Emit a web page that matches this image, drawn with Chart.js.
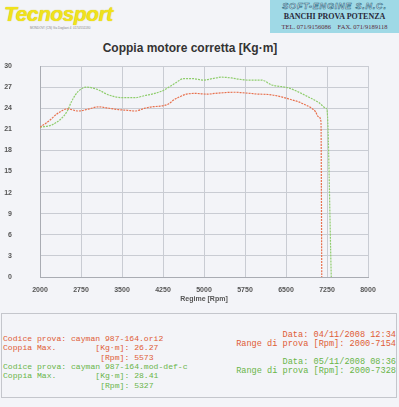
<!DOCTYPE html>
<html>
<head>
<meta charset="utf-8">
<script src="https://cdn.jsdelivr.net/npm/chart.js@4.4.0/dist/chart.umd.min.js"></script>
<style>
  body { margin: 0; width: 399px; height: 407px; background: #f3f4f8; position: relative; overflow: hidden; font-family: "Liberation Sans", Arial, sans-serif; }
  .abs { position: absolute; white-space: pre; }
  #logo { left: 4px; top: 2px; font: italic bold 21px "Liberation Sans", Arial, sans-serif; color: #f0e21c; letter-spacing: -0.5px; text-shadow: 0 0 1px #c9b800; }
  #addr { left: 30px; top: 26px; font-size: 3px; color: #888; }
  #box { left: 270px; top: 0; width: 129px; height: 33px; background: #9fd9e6; }
  #se { left: 270px; width: 129px; top: 1px; text-align: center; font: italic bold 9px "Liberation Sans", Arial, sans-serif; color: #f4f8fb; letter-spacing: 0.8px; -webkit-text-stroke: 0.6px #2f6f88; }
  #banchi { left: 270px; width: 129px; top: 12px; text-align: center; font: bold 8px "Liberation Serif", "Times New Roman", serif; color: #2a2a3a; }
  #tel { left: 270px; width: 129px; top: 23px; text-align: center; font: 6.5px "Liberation Serif", "Times New Roman", serif; color: #5a2a3a; }
  #title { left: 0; width: 380px; top: 41px; text-align: center; font: bold 12px "Liberation Sans", Arial, sans-serif; color: #333; }
  #chartBox { position: absolute; left: 0; top: 56px; width: 399px; height: 250px; }
  #legend { position: absolute; left: 1px; top: 313px; width: 394px; height: 83px; border: 1px solid #c4c6cc; }
  .mono { font: 8.1px "Liberation Mono", "Courier New", monospace; line-height: 9.3px; }
  .wide { font-size: 8.6px; }
  .red { color: #df5c36; }
  .green { color: #69b448; }
</style>
</head>
<body>
<div id="logo" class="abs">Tecnosport</div>
<div id="addr" class="abs">MONDOVI' (CN) Via Dogliani 4  0174/551180</div>
<div id="box" class="abs"></div>
<div id="se" class="abs">SOFT-ENGINE S.N.C.</div>
<div id="banchi" class="abs">BANCHI PROVA POTENZA</div>
<div id="tel" class="abs">TEL. 071/9156086    FAX. 071/9189118</div>
<div id="title" class="abs">Coppia motore corretta [Kg·m]</div>

<div id="chartBox"><canvas id="myChart"></canvas></div>

<div id="legend"></div>
<div class="abs mono red" style="left:3px; top:334px;">Codice prova: cayman 987-164.ori2
Coppia Max.        [Kg·m]: 26.27
                    [Rpm]: 5573</div>
<div class="abs mono green" style="left:3px; top:362px;">Codice prova: cayman 987-164.mod-def-c
Coppia Max.        [Kg·m]: 28.41
                    [Rpm]: 5327</div>
<div class="abs mono wide red" style="right:3px; top:331px; text-align:right;">Data: 04/11/2008 12:34
Range di prova [Rpm]: 2000-7154</div>
<div class="abs mono wide green" style="right:3px; top:358px; text-align:right;">Data: 05/11/2008 08:36
Range di prova [Rpm]: 2000-7328</div>

<script>
const ctx = document.getElementById("myChart");

// prova ori2 (rossa)
let rpmOri = [2000, 2150, 2330, 2500, 2700, 2900, 3070, 3250, 3430, 3600, 3740, 3920, 4050, 4200, 4350, 4450, 4550, 4680, 4850, 5050, 5200, 5350, 5573, 5700, 5850, 6000, 6180, 6420, 6600, 6730, 6850, 6970, 7040, 7090, 7140, 7154];
let coppiaOri = [21.3, 22.1, 23.3, 23.9, 23.6, 23.9, 24.2, 24.0, 23.8, 23.7, 23.6, 24.0, 24.2, 24.3, 24.6, 25.2, 25.6, 26.0, 26.1, 26.0, 26.1, 26.2, 26.27, 26.2, 26.1, 26.0, 25.95, 25.6, 25.2, 24.9, 24.5, 24.0, 23.5, 22.8, 22.1, 0];

// prova mod-def-c (verde)
let rpmMod = [2000, 2210, 2400, 2500, 2580, 2700, 2850, 2950, 3070, 3250, 3500, 3740, 3920, 4100, 4250, 4400, 4500, 4620, 4800, 4990, 5150, 5327, 5500, 5660, 5800, 6050, 6240, 6540, 6700, 6910, 7100, 7232, 7250, 7328];
let coppiaMod = [21.3, 21.6, 22.6, 23.6, 25.0, 26.4, 27.0, 26.9, 26.6, 25.9, 25.5, 25.5, 25.8, 26.1, 26.5, 27.2, 27.7, 28.2, 28.2, 28.0, 28.2, 28.41, 28.3, 28.1, 28.0, 28.0, 27.3, 26.9, 26.4, 25.6, 24.8, 24.0, 23.8, 0];

let rpmTicks = [2000, 2750, 3500, 4250, 5000, 5750, 6500, 7250, 8000];
let coppiaTicks = [0, 3, 6, 9, 12, 15, 18, 21, 24, 27, 30];

let toPoints = (xs, ys) => xs.map((x, i) => ({ x: x, y: ys[i] }));

let tickFont = { size: 7, weight: "bold", family: "Liberation Sans" };

let chart = new Chart(ctx, {
    type: "line",
    data: {
        datasets: [
            {
                label: "cayman 987-164.ori2",
                data: toPoints(rpmOri, coppiaOri),
                borderColor: "#e8714e",
                borderWidth: 1.2,
                borderDash: [2, 1],
                pointRadius: 0,
                cubicInterpolationMode: "monotone",
            },
            {
                label: "cayman 987-164.mod-def-c",
                data: toPoints(rpmMod, coppiaMod),
                borderColor: "#8fcd6c",
                borderWidth: 1.2,
                borderDash: [2, 1],
                pointRadius: 0,
                cubicInterpolationMode: "monotone",
            },
        ],
    },
    options: {
        responsive: true,
        maintainAspectRatio: false,
        animation: false,
        layout: { padding: { left: 0, right: 31, top: 10, bottom: 0 } },
        plugins: {
            legend: { display: false },
            tooltip: { enabled: false },
        },
        scales: {
            x: {
                type: "linear",
                min: 2000,
                max: 8000,
                afterBuildTicks: (axis) => { axis.ticks = rpmTicks.map(v => ({ value: v })); },
                afterFit: (axis) => { axis.height = 29; },
                ticks: { font: tickFont, color: "#555", padding: 9, maxRotation: 0, callback: (v) => String(v) },
                grid: { color: "#c9ccd3", drawTicks: false },
                border: { color: "#a9acb3" },
                title: {
                    display: true,
                    text: "Regime [Rpm]",
                    font: tickFont,
                    color: "#555",
                    padding: { top: 0, bottom: 3 },
                },
            },
            y: {
                min: 0,
                max: 30,
                afterBuildTicks: (axis) => { axis.ticks = coppiaTicks.map(v => ({ value: v })); },
                afterFit: (axis) => {
                    axis.width = 40;
                    // niente spazio extra sopra/sotto dovuto al padding delle etichette
                    axis.paddingTop = 0;
                    axis.paddingBottom = 0;
                },
                ticks: { font: tickFont, color: "#555", padding: 28, callback: (v) => String(v) },
                grid: { color: "#c9ccd3", drawTicks: false },
                border: { color: "#a9acb3" },
            },
        },
    },
});
</script>
</body>
</html>
